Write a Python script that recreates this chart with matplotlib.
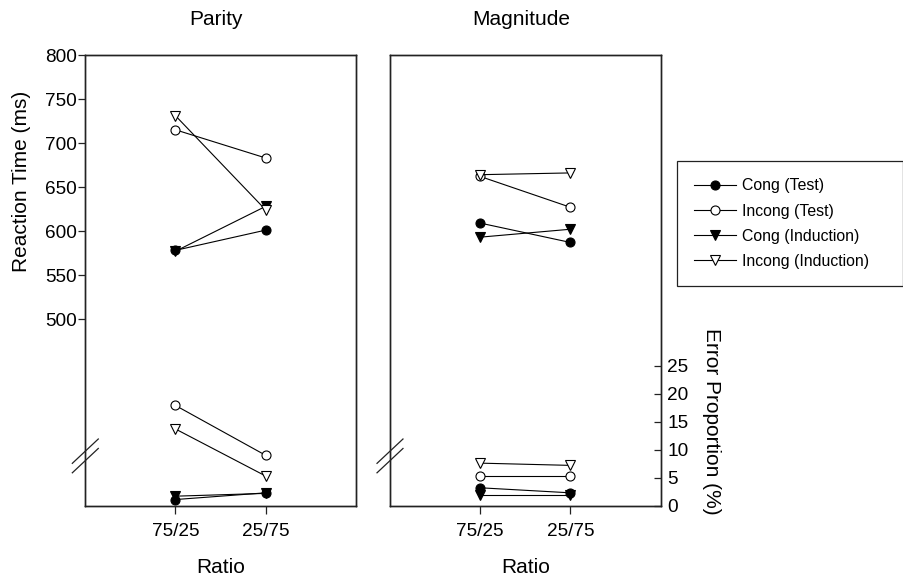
import matplotlib
matplotlib.use("Agg")
import matplotlib.pyplot as plt

plt.rcParams['font.family'] = ['Liberation Sans', 'DejaVu Sans']

# ================= DATA =================
ratio_labels = ["75/25", "25/75"]
series_labels = ["Cong (Test)", "Incong (Test)", "Cong (Induction)", "Incong (Induction)"]

# reaction time (ms)
parity_rt_cong_test = [578, 601]
parity_rt_incong_test = [715, 683]
parity_rt_cong_ind = [577, 628]
parity_rt_incong_ind = [731, 624]

mag_rt_cong_test = [609, 587]
mag_rt_incong_test = [662, 627]
mag_rt_cong_ind = [593, 602]
mag_rt_incong_ind = [664, 666]

# error proportion (%)
parity_err_cong_test = [1.1, 2.3]
parity_err_incong_test = [17.9, 9.0]
parity_err_cong_ind = [1.7, 2.2]
parity_err_incong_ind = [13.7, 5.3]

mag_err_cong_test = [3.2, 2.3]
mag_err_incong_test = [5.3, 5.3]
mag_err_cong_ind = [2.0, 2.0]
mag_err_incong_ind = [7.6, 7.2]

rt_ticks = [500, 550, 600, 650, 700, 750, 800]
err_ticks = [0, 5, 10, 15, 20, 25]
# =========================================

W, H = 904, 579
DARK = "#222222"
TICK_FS = 13.7
LABEL_FS = 15

# marker, face colour, size
styles = [("o", "black", 6.5), ("o", "white", 6.5), ("v", "black", 7.5), ("v", "white", 7.5)]


def draw_panel(fig, left_px, title, rt_series, err_series, show_rt, show_err):
    rect = [left_px / W, 1 - 505.7 / H, 270.5 / W, 450.7 / H]
    ax = fig.add_axes(rect)
    ax_err = ax.twinx()
    x = [1, 2]

    handles = []
    for (m, fc, ms), lab, ys in zip(styles, series_labels, rt_series):
        h, = ax.plot(x, ys, color="black", lw=0.8, marker=m, ms=ms,
                     mfc=fc, mec="black", mew=0.8, label=lab)
        handles.append(h)
    for (m, fc, ms), ys in zip(styles, err_series):
        ax_err.plot(x, ys, color="black", lw=0.8, marker=m, ms=ms,
                    mfc=fc, mec="black", mew=0.8)

    ax.set_xlim(0, 3)
    ax.set_ylim(800 - 450.7 * 50 / 44, 800)
    ax_err.set_ylim(0, 450.7 / 5.6)

    ax.set_xticks(x)
    ax.set_xticklabels(ratio_labels, fontsize=TICK_FS)
    ax.tick_params(axis="x", direction="out", length=5.5, width=0.9,
                   color=DARK, pad=7)

    if show_rt:
        ax.set_yticks(rt_ticks)
        ax.tick_params(axis="y", direction="out", length=5, width=0.9,
                       color=DARK, labelsize=TICK_FS, pad=0.8)
    else:
        ax.set_yticks([])

    if show_err:
        ax_err.set_yticks(err_ticks)
        ax_err.tick_params(axis="y", direction="in", length=5, width=0.9,
                           color=DARK, labelsize=TICK_FS, pad=5)
    else:
        ax_err.set_yticks([])

    for a in (ax, ax_err):
        for s in a.spines.values():
            s.set_linewidth(1.0)
            s.set_color(DARK)

    # axis break marks on the left spine
    for dy in (0.0, -0.021):
        ax.plot([-0.048, 0.048], [0.094 + dy, 0.148 + dy], transform=ax.transAxes,
                color=DARK, lw=0.9, clip_on=False)

    ax.text(0.5, -0.138, "Ratio", transform=ax.transAxes, ha="center",
            va="center", fontsize=LABEL_FS)
    ax.text(0.485, 1.0777, title, transform=ax.transAxes, ha="center",
            va="center", fontsize=LABEL_FS)
    return handles


fig = plt.figure(figsize=(W / 100, H / 100), dpi=100)

draw_panel(fig, 85.3, "Parity",
           [parity_rt_cong_test, parity_rt_incong_test, parity_rt_cong_ind, parity_rt_incong_ind],
           [parity_err_cong_test, parity_err_incong_test, parity_err_cong_ind, parity_err_incong_ind],
           show_rt=True, show_err=False)

handles = draw_panel(fig, 390.0, "Magnitude",
                     [mag_rt_cong_test, mag_rt_incong_test, mag_rt_cong_ind, mag_rt_incong_ind],
                     [mag_err_cong_test, mag_err_incong_test, mag_err_cong_ind, mag_err_incong_ind],
                     show_rt=False, show_err=True)

fig.text(21.7 / W, 1 - 181.7 / H, "Reaction Time (ms)", rotation=90,
         ha="center", va="center", fontsize=LABEL_FS)
fig.text(711.7 / W, 1 - 421.7 / H, "Error Proportion (%)", rotation=270,
         ha="center", va="center", fontsize=LABEL_FS)

leg = fig.legend(handles=handles, loc="upper left",
                 bbox_to_anchor=(676.7 / W, 1 - 282.7 / H, (903 - 676.7) / W, (282.7 - 161) / H),
                 mode="expand", borderaxespad=0, fontsize=11.4, frameon=True,
                 fancybox=False, framealpha=1, edgecolor=DARK, borderpad=1.1,
                 handlelength=2.65, handletextpad=0.4, labelspacing=0.64)
leg.get_frame().set_linewidth(0.9)

fig.savefig("out.png", dpi=100)
